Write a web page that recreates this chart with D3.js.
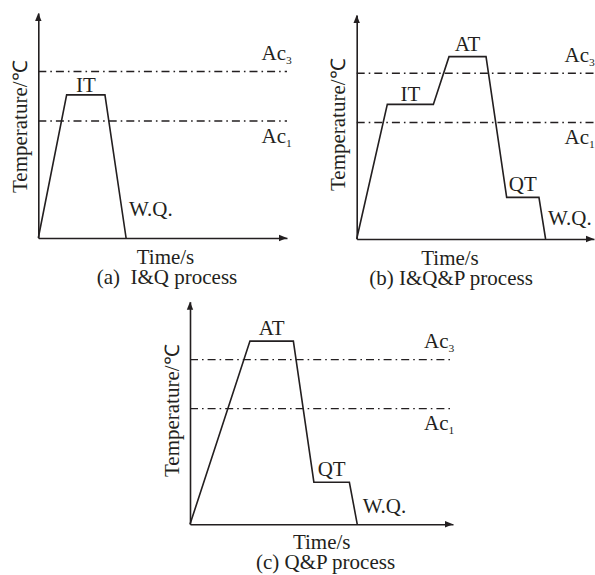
<!DOCTYPE html>
<html>
<head>
<meta charset="utf-8">
<script src="https://cdn.jsdelivr.net/npm/d3@7"></script>
<style>
  html, body { margin: 0; padding: 0; background: #fff; }
  svg { display: block; }
  text { font-family: "Liberation Serif", "Times New Roman", serif; fill: #231f20; white-space: pre; }
</style>
</head>
<body>
<svg id="chart" width="595" height="575"></svg>
<script>
// ---------------- data ----------------
const panelTitles = ["(a)  I&Q process", "(b) I&Q&P process", "(c) Q&P process"];
const xAxisLabel = "Time/s";
const yAxisLabel = "Temperature/℃";
const criticalNames = ["Ac", "Ac"];
const criticalSubs = ["3", "1"];
const criticalTemps = [74, 52];

// relative time / temperature (0–100) of each process path
const timeA = [0, 11.4, 26.8, 35.3];
const tempA = [0, 63.6, 63.6, 0];
const stageLabelsA = ["IT"];

const timeB = [0, 12.9, 32.3, 38.9, 54.5, 63.2, 76.8, 79.6];
const tempB = [0, 60.1, 60.1, 81.4, 81.4, 18.6, 18.6, 0];
const stageLabelsB = ["IT", "AT", "QT"];

const timeC = [0, 22.8, 39.3, 47.1, 60.6, 63.6];
const tempC = [0, 82.3, 82.3, 18.9, 18.9, 0];
const stageLabelsC = ["AT", "QT"];

const quenchLabel = "W.Q.";

// ---------------- layout ----------------
const panels = [
  { time: timeA, temp: tempA, stages: stageLabelsA, x0: 38.3, x1: 287, y0: 238, y1: 13,
    timeX: 165.5, timeDy: 26, titleX: 167, titleDy: 45.5, acX: 261.5, wqDx: 3, wqDy: 22, yLabelCy: 127 },
  { time: timeB, temp: tempB, stages: stageLabelsB, x0: 356.7, x1: 594, y0: 239, y1: 15,
    timeX: 450, timeDy: 26, titleX: 451, titleDy: 45.5, acX: 564.5, wqDx: 2.5, wqDy: 14, yLabelCy: 125 },
  { time: timeC, temp: tempC, stages: stageLabelsC, x0: 190, x1: 453, y0: 524.3, y1: 301.7,
    timeX: 321.7, timeDy: 25, titleX: 325.5, titleDy: 45, acX: 424, wqDx: 5.4, wqDy: 11, yLabelCy: 411 }
];

const ink = "#231f20";
const fs = 20;
const stretch = 1.05;
const svg = d3.select("#chart");

function addText(g, x, y, str, anchor, rotate) {
  return g.append("text")
    .attr("transform", `translate(${x},${y})${rotate ? " rotate(-90)" : ""} scale(${stretch},1)`)
    .attr("text-anchor", anchor || "start")
    .attr("font-size", fs)
    .text(str);
}

panels.forEach((p, i) => {
  const x = d3.scaleLinear().domain([0, 100]).range([p.x0, p.x1]);
  const y = d3.scaleLinear().domain([0, 100]).range([p.y0, p.y1]);
  const g = svg.append("g");

  // axes (no ticks)
  const xAxis = g.append("g").attr("transform", `translate(0,${p.y0})`)
    .call(d3.axisBottom(x).tickValues([]).tickSizeOuter(0));
  const yAxis = g.append("g").attr("transform", `translate(${p.x0},0)`)
    .call(d3.axisLeft(y).tickValues([]).tickSizeOuter(0));
  [xAxis, yAxis].forEach(a => a.select(".domain").attr("stroke", ink).attr("stroke-width", 1.6));

  // arrowheads
  const ax = x(100), ay = y(100);
  g.append("path")
    .attr("d", `M${ax},${p.y0} L${ax - 8},${p.y0 - 3.2} L${ax - 8},${p.y0 + 3.2} Z`)
    .attr("fill", ink);
  g.append("path")
    .attr("d", `M${p.x0},${ay} L${p.x0 - 3.2},${ay + 8} L${p.x0 + 3.2},${ay + 8} Z`)
    .attr("fill", ink);

  // critical temperature lines
  criticalTemps.forEach((t, k) => {
    g.append("line")
      .attr("x1", x(0)).attr("x2", x(100))
      .attr("y1", y(t)).attr("y2", y(t))
      .attr("stroke", ink).attr("stroke-width", 1.3)
      .attr("stroke-dasharray", "8,4,1.6,4");
    const lbl = addText(g, p.acX, k === 0 ? y(t) - 11.5 : y(t) + 21.5, null, "start");
    lbl.append("tspan").text(criticalNames[k]);
    lbl.append("tspan").attr("font-size", 11).attr("dy", 4).text(criticalSubs[k]);
  });

  // process path
  const pts = p.time.map((t, k) => [t, p.temp[k]]);
  g.append("path")
    .datum(pts)
    .attr("d", d3.line().x(d => x(d[0])).y(d => y(d[1])))
    .attr("fill", "none")
    .attr("stroke", ink)
    .attr("stroke-width", 1.6)
    .attr("stroke-linejoin", "miter");

  // plateau labels: plateaus are consecutive points with equal temperature > 0
  const plateaus = [];
  for (let k = 1; k < pts.length - 1; k++) {
    if (pts[k][1] === pts[k + 1][1] && pts[k][1] > 0) plateaus.push([pts[k], pts[k + 1]]);
  }
  plateaus.forEach((pl, k) => {
    addText(g, (x(pl[0][0]) + x(pl[1][0])) / 2,
      y(pl[0][1]) - (pl[0][1] < 70 && pl[0][1] > 50 ? 3 : 6),
      p.stages[k], "middle");
  });

  // water quench label
  const last = pts[pts.length - 1];
  addText(g, x(last[0]) + p.wqDx, p.y0 - p.wqDy, quenchLabel, "start");

  // axis labels
  addText(g, p.timeX, p.y0 + p.timeDy, xAxisLabel, "middle");
  addText(g, p.x0 - 11.5, p.yLabelCy, yAxisLabel, "middle", true);

  // panel title
  addText(g, p.titleX, p.y0 + p.titleDy, panelTitles[i], "middle");
});
</script>
</body>
</html>
